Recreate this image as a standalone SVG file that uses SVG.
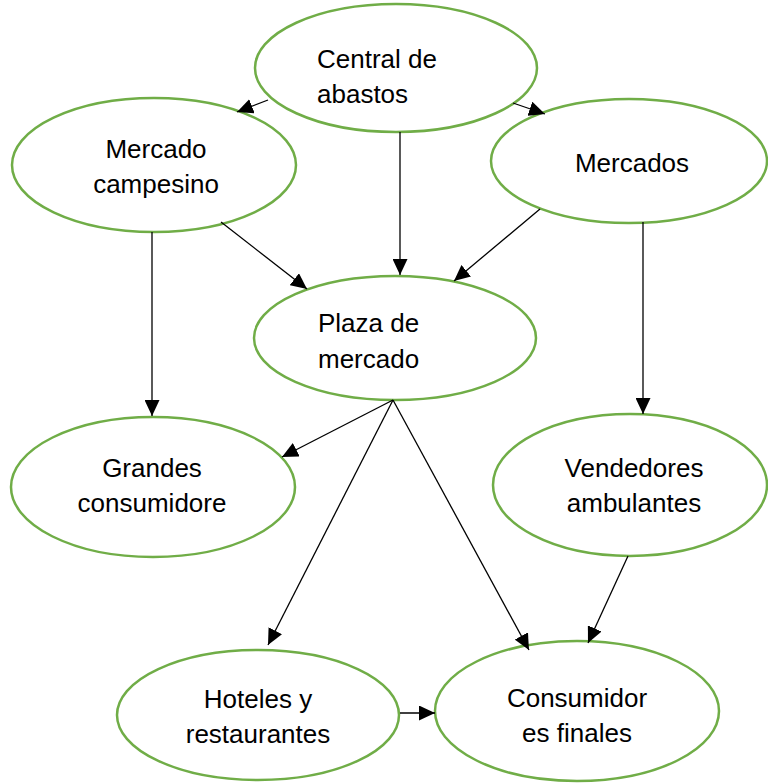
<svg xmlns="http://www.w3.org/2000/svg" width="768" height="783" viewBox="0 0 768 783">
<defs>
<style>
.node ellipse{fill:#ffffff;stroke:#70AD47;stroke-width:2.5}
.node text{font-family:"Liberation Sans",Arial,sans-serif;font-size:26px;fill:#000000}
.c{text-anchor:middle}
.edges line{stroke:#000000;stroke-width:1.3;marker-end:url(#ah)}
</style>
<marker id="ah" markerUnits="userSpaceOnUse" markerWidth="17" markerHeight="15" refX="16" refY="7.5" orient="auto" viewBox="0 0 17 15">
<path d="M0,0 L16,7.5 L0,15 z" fill="#000000"/>
</marker>
</defs>
<rect width="768" height="783" fill="#ffffff"/>
<g id="central" class="node"><ellipse cx="396" cy="68" rx="141" ry="64"/><text x="317" y="68">Central de</text><text x="317" y="103">abastos</text></g>
<g id="campesino" class="node"><ellipse cx="154" cy="165" rx="142" ry="67"/><text class="c" x="156" y="158">Mercado</text><text class="c" x="156" y="193">campesino</text></g>
<g id="mercados" class="node"><ellipse cx="629" cy="161" rx="138" ry="62"/><text class="c" x="632" y="172">Mercados</text></g>
<g id="plaza" class="node"><ellipse cx="395" cy="338" rx="141" ry="62"/><text x="318" y="332">Plaza de</text><text x="318" y="368">mercado</text></g>
<g id="grandes" class="node"><ellipse cx="153" cy="487" rx="142" ry="70"/><text class="c" x="152" y="477">Grandes</text><text class="c" x="152" y="512">consumidore</text></g>
<g id="vendedores" class="node"><ellipse cx="630" cy="485" rx="137" ry="71"/><text class="c" x="634" y="477">Vendedores</text><text class="c" x="634" y="512">ambulantes</text></g>
<g id="hoteles" class="node"><ellipse cx="258" cy="715" rx="141" ry="65"/><text class="c" x="258" y="708">Hoteles y</text><text class="c" x="258" y="743">restaurantes</text></g>
<g id="consumidores" class="node"><ellipse cx="577" cy="711" rx="142" ry="70"/><text class="c" x="577" y="707">Consumidor</text><text class="c" x="577" y="742">es finales</text></g>
<g class="edges">
<line x1="268" y1="100" x2="237" y2="112"/>
<line x1="513" y1="103" x2="545" y2="114"/>
<line x1="400" y1="132" x2="400" y2="275"/>
<line x1="221" y1="222" x2="307" y2="289"/>
<line x1="540" y1="209" x2="454" y2="281"/>
<line x1="152" y1="232" x2="152" y2="416"/>
<line x1="643" y1="222" x2="643" y2="414"/>
<line x1="393" y1="400" x2="282" y2="457"/>
<line x1="393" y1="400" x2="268" y2="645"/>
<line x1="393" y1="400" x2="529" y2="650"/>
<line x1="628" y1="556" x2="588" y2="643"/>
<line x1="400" y1="713" x2="435" y2="713"/>
</g>
</svg>
